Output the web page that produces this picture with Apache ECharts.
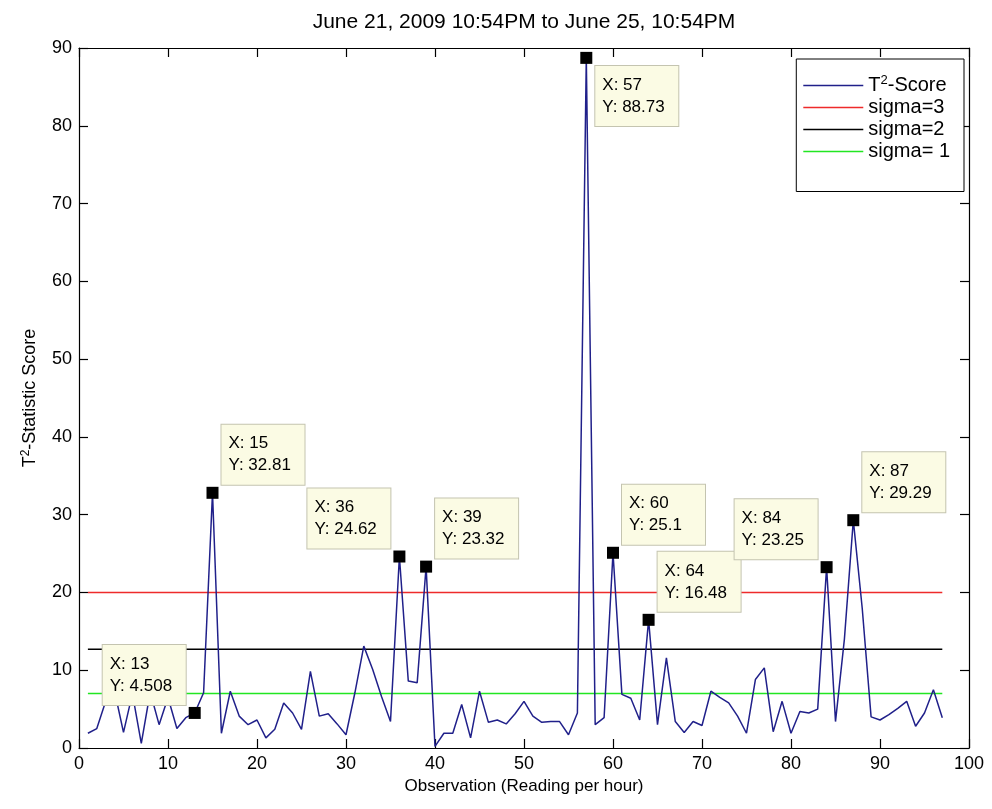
<!DOCTYPE html>
<html>
<head>
<meta charset="utf-8">
<title>T2-Statistic Score</title>
<script src="https://cdn.jsdelivr.net/npm/echarts@6/dist/echarts.min.js"></script>
<style>
  html, body { margin: 0; padding: 0; background: #ffffff; }
  #chart { width: 992px; height: 809px; }
</style>
</head>
<body>
<div id="chart"></div>
<script>
// Hourly T^2 scores, observations 1..97
const scores = [
  1.9, 2.5, 6.0, 7.3, 2.0, 7.0, 0.6, 7.2, 3.0, 6.5,
  2.5, 3.9, 4.508, 7.1, 32.81, 1.9, 7.3, 4.1, 3.0, 3.6,
  1.3, 2.4, 5.8, 4.5, 2.4, 9.85, 4.1, 4.4, 3.1, 1.7,
  7.1, 13.1, 10.1, 6.6, 3.4, 24.62, 8.6, 8.4, 23.32, 0.2,
  1.9, 1.9, 5.6, 1.3, 7.3, 3.3, 3.6, 3.1, 4.4, 6.0,
  4.1, 3.3, 3.4, 3.4, 1.7, 4.5, 88.73, 3.0, 3.9, 25.1,
  6.9, 6.4, 3.6, 16.48, 3.0, 11.6, 3.4, 2.0, 3.4, 2.9,
  7.3, 6.5, 5.8, 4.1, 1.9, 8.8, 10.3, 2.1, 6.0, 1.9,
  4.7, 4.5, 5.0, 23.25, 3.4, 14.0, 29.29, 18.0, 4.0, 3.6,
  4.3, 5.1, 6.0, 2.8, 4.5, 7.5, 3.9
];

// Control limits and the observation range they span
const sigmaLevels = [20, 12.7, 7.0];
const sigmaNames = ['sigma=3', 'sigma=2', 'sigma= 1'];
const limitSpan = [1, 97];

// Observations carrying a data tip
const tipObservations = [13, 15, 36, 39, 57, 60, 64, 84, 87];

// Axis ticks
const xTicks = { min: 0, max: 100, step: 10 };
const yTicks = { min: 0, max: 90, step: 10 };

const titleText = 'June 21, 2009 10:54PM to June 25, 10:54PM';
const xTitle = 'Observation (Reading per hour)';

// ---- presentation ----
const FONT = 'Liberation Sans, Arial, Helvetica, sans-serif';
const sigmaColors = ['#ee2b2b', '#000000', '#22e622'];
const scoreColor = '#20208a';

// tip box: fixed content width so every box is the same size
const TIP_W = 66, TIP_PAD = [8, 10, 8, 7];
const TIP_BOX_W = TIP_W + TIP_PAD[1] + TIP_PAD[3];

// which corner of the marker each tip box sits at
const tipSide = { 13: 'nw', 15: 'ne', 36: 'nw', 39: 'ne', 57: 'se', 60: 'ne', 64: 'ne', 84: 'nw', 87: 'ne' };
const tipPlacement = {
  ne: { position: [15, -2], verticalAlign: 'bottom' },
  nw: { position: [-3 - TIP_BOX_W, -2], verticalAlign: 'bottom' },
  se: { position: [15, 14], verticalAlign: 'top' }
};

const scoreData = scores.map((v, i) => [i + 1, v]);

const tipData = tipObservations.map(obs => {
  const p = tipPlacement[tipSide[obs]];
  return {
    value: [obs, scores[obs - 1]],
    label: { position: p.position, align: 'left', verticalAlign: p.verticalAlign }
  };
});

const legendRich = {
  n: { fontFamily: FONT, fontSize: 20, color: '#000' },
  s: { fontFamily: FONT, fontSize: 13, color: '#000', padding: [0, 0, 10, 0] }
};

const limitSeries = sigmaLevels.map((lv, k) => ({
  name: sigmaNames[k],
  type: 'line',
  data: limitSpan.map(x => [x, lv]),
  symbol: 'none',
  silent: true,
  lineStyle: { color: sigmaColors[k], width: 1.5 },
  itemStyle: { color: sigmaColors[k] },
  z: 2
}));

const baseAxis = {
  type: 'value',
  axisLine: { show: true, onZero: false, lineStyle: { color: '#000', width: 1.2 } },
  axisTick: { show: true, inside: true, length: 9, lineStyle: { color: '#000', width: 1.2 } },
  splitLine: { show: false },
  axisLabel: { show: false }
};

const option = {
  backgroundColor: '#ffffff',
  animation: false,
  textStyle: { fontFamily: FONT },
  title: {
    text: titleText,
    left: 519,
    top: 7,
    textAlign: 'center',
    textStyle: { fontFamily: FONT, fontSize: 21, fontWeight: 'normal', color: '#000' }
  },
  grid: { left: 79, right: 23, top: 48, bottom: 61, containLabel: false },
  legend: {
    orient: 'vertical',
    right: 28,
    top: 59,
    data: ['T2-Score'].concat(sigmaNames),
    icon: 'rect',
    itemWidth: 60,
    itemHeight: 1.6,
    itemGap: 2,
    padding: [15, 14, 30, 7],
    backgroundColor: '#ffffff',
    borderColor: '#000',
    borderWidth: 1,
    formatter: name => name === 'T2-Score' ? '{n|T}{s|2}{n|-Score}' : '{n|' + name + '}',
    textStyle: { fontFamily: FONT, fontSize: 20, color: '#000', lineHeight: 20, rich: legendRich }
  },
  xAxis: [
    Object.assign({}, baseAxis, {
      position: 'bottom',
      min: xTicks.min, max: xTicks.max, interval: xTicks.step,
      axisLabel: { show: true, color: '#000', fontFamily: FONT, fontSize: 18, margin: 7 },
      name: xTitle,
      nameLocation: 'middle',
      nameGap: 29,
      nameTextStyle: { fontFamily: FONT, fontSize: 17, color: '#000' }
    }),
    Object.assign({}, baseAxis, {
      position: 'top',
      min: xTicks.min, max: xTicks.max, interval: xTicks.step
    })
  ],
  yAxis: [
    Object.assign({}, baseAxis, {
      position: 'left',
      min: yTicks.min, max: yTicks.max, interval: yTicks.step,
      axisLabel: { show: true, color: '#000', fontFamily: FONT, fontSize: 18, margin: 7 },
      name: '{n|T}{s|2}{n|-Statistic Score}',
      nameLocation: 'middle',
      nameRotate: 90,
      nameGap: 38,
      nameTextStyle: { fontFamily: FONT, fontSize: 18, color: '#000', rich: {
        n: { fontFamily: FONT, fontSize: 18, color: '#000' },
        s: { fontFamily: FONT, fontSize: 12, color: '#000', padding: [0, 0, 9, 0] }
      } }
    }),
    Object.assign({}, baseAxis, {
      position: 'right',
      min: yTicks.min, max: yTicks.max, interval: yTicks.step
    })
  ],
  series: [
    {
      name: 'T2-Score',
      type: 'line',
      data: scoreData,
      symbol: 'none',
      silent: true,
      lineStyle: { color: scoreColor, width: 1.5 },
      itemStyle: { color: scoreColor },
      z: 3
    }
  ].concat(limitSeries, [
    {
      name: 'tips',
      type: 'scatter',
      data: tipData,
      symbol: 'rect',
      symbolSize: 12,
      silent: true,
      itemStyle: { color: '#000', opacity: 1 },
      z: 5,
      label: {
        show: true,
        formatter: p => 'X: ' + p.value[0] + '\nY: ' + p.value[1],
        fontFamily: FONT,
        fontSize: 17,
        lineHeight: 22,
        width: TIP_W,
        color: '#000',
        backgroundColor: '#fbfbe4',
        borderColor: '#c4c4b0',
        borderWidth: 1,
        padding: TIP_PAD
      }
    }
  ])
};

const chart = echarts.init(document.getElementById('chart'), null, { renderer: 'canvas' });
chart.setOption(option);
</script>
</body>
</html>
